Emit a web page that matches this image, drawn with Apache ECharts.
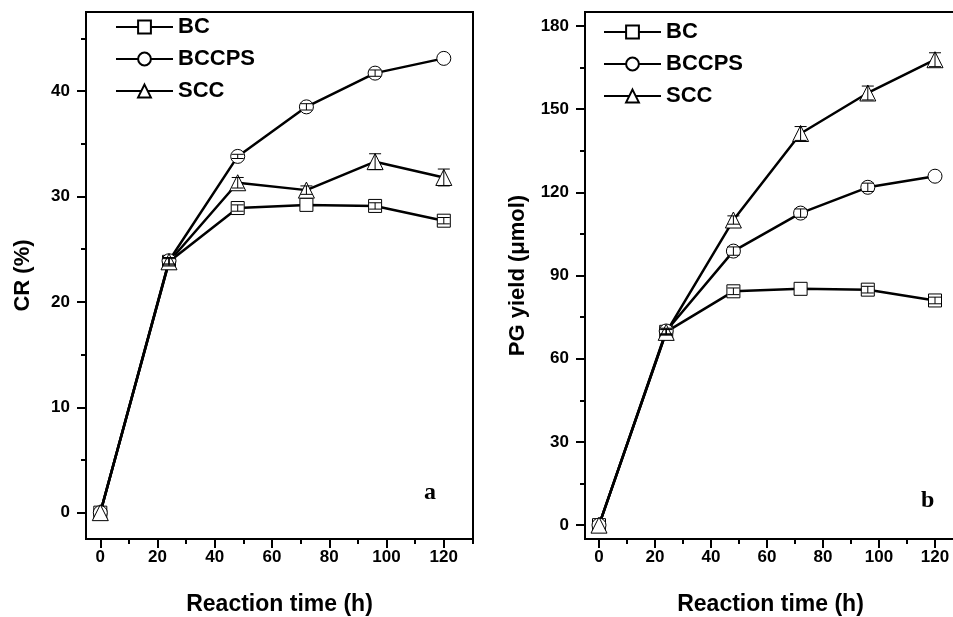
<!DOCTYPE html>
<html>
<head>
<meta charset="utf-8">
<script src="https://cdn.jsdelivr.net/npm/echarts@6/dist/echarts.min.js"></script>
<style>html,body{margin:0;padding:0;background:#fff;}#c{width:953px;height:617px;}</style>
</head>
<body>
<div id="c"></div>
<script>
// ---- data ----
const times = [0, 24, 48, 72, 96, 120];
const seriesNames = ['BC', 'BCCPS', 'SCC'];
// Panel a: CR (%)
const crBC    = [0, 23.8, 28.9, 29.2, 29.1, 27.7];
const crBCCPS = [0, 23.9, 33.8, 38.5, 41.7, 43.1];
const crSCC   = [0, 23.8, 31.3, 30.6, 33.3, 31.8];
const crErrBC    = [0, 0.3, 0.3, 0, 0.3, 0.3];
const crErrBCCPS = [0, 0.3, 0.2, 0.3, 0.3, 0];
const crErrSCC   = [0, 0.4, 0.5, 0.4, 0.75, 0.8];
// Panel b: PG yield (umol)
const pgBC    = [0, 69.7, 84.3, 85.2, 84.9, 81.0];
const pgBCCPS = [0, 70.0, 98.8, 112.5, 121.8, 125.8];
const pgSCC   = [0, 69.5, 110.0, 141.2, 155.8, 167.8];
const pgErrBC    = [0, 1, 1.2, 0, 1.2, 1.2];
const pgErrBCCPS = [0, 1, 1.5, 1.5, 1.5, 0];
const pgErrSCC   = [0, 1, 1.5, 2.5, 2.5, 2.5];
// ticks
const xMajor = [0, 20, 40, 60, 80, 100, 120];
const xMinorA = [10, 30, 50, 70, 90, 110, 130];
const xMinorB = [10, 30, 50, 70, 90, 110];
const yMajorA = [0, 10, 20, 30, 40];
const yMinorA = [5, 15, 25, 35, 45];
const yMajorB = [0, 30, 60, 90, 120, 150, 180];
const yMinorB = [15, 45, 75, 105, 135, 165];

const FONT = '"Liberation Sans", Arial, sans-serif';
const symbols = ['rect', 'circle', 'triangle'];
const symSizes = [13, 14, 16];

function xAxisPair(gi, min, max, minor, name) {
  return [
    { type: 'value', gridIndex: gi, min: min, max: max, position: 'bottom',
      name: name, nameLocation: 'middle', nameGap: 54,
      nameTextStyle: { fontFamily: FONT, fontWeight: 'bold', fontSize: 23, color: '#000' },
      axisLine: { show: true, onZero: false, lineStyle: { color: '#000', width: 2 } },
      axisTick: { show: true, inside: false, length: 9, lineStyle: { color: '#000', width: 2 }, customValues: xMajor },
      axisLabel: { show: true, margin: 10, fontFamily: FONT, fontWeight: 'bold', fontSize: 17, color: '#000', customValues: xMajor },
      splitLine: { show: false } },
    { type: 'value', gridIndex: gi, min: min, max: max, position: 'bottom',
      axisLine: { show: false, onZero: false },
      axisTick: { show: true, inside: false, length: 5, lineStyle: { color: '#000', width: 2 }, customValues: minor },
      axisLabel: { show: false },
      splitLine: { show: false } }
  ];
}
function yAxisPair(gi, min, max, major, minor, name, gap) {
  return [
    { type: 'value', gridIndex: gi, min: min, max: max, position: 'left',
      name: name, nameLocation: 'middle', nameGap: gap, nameRotate: 90,
      nameTextStyle: { fontFamily: FONT, fontWeight: 'bold', fontSize: 22, color: '#000' },
      axisLine: { show: true, onZero: false, lineStyle: { color: '#000', width: 2 } },
      axisTick: { show: true, inside: false, length: 9, lineStyle: { color: '#000', width: 2 }, customValues: major },
      axisLabel: { show: true, margin: 16, fontFamily: FONT, fontWeight: 'bold', fontSize: 17, color: '#000', customValues: major },
      splitLine: { show: false } },
    { type: 'value', gridIndex: gi, min: min, max: max, position: 'left',
      axisLine: { show: false, onZero: false },
      axisTick: { show: true, inside: false, length: 5, lineStyle: { color: '#000', width: 2 }, customValues: minor },
      axisLabel: { show: false },
      splitLine: { show: false } }
  ];
}

function lineSeries(name, vals, i, xi, yi) {
  return {
    type: 'line', name: name, xAxisIndex: xi, yAxisIndex: yi,
    data: times.map((t, k) => [t, vals[k]]),
    symbol: symbols[i], symbolSize: symSizes[i], showAllSymbol: true,
    lineStyle: { color: '#000', width: 2.5 },
    itemStyle: { color: '#fff', borderColor: '#000', borderWidth: 1 },
    emphasis: { disabled: true }, animation: false, z: 2
  };
}
function errSeries(vals, errs, xi, yi) {
  return {
    type: 'custom', xAxisIndex: xi, yAxisIndex: yi, z: 5, silent: true, animation: false,
    data: times.map((t, k) => [t, vals[k], errs[k]]),
    renderItem: function (params, api) {
      const x = api.value(0), y = api.value(1), e = api.value(2);
      if (!e) return;
      const top = api.coord([x, y + e]);
      const bot = api.coord([x, y - e]);
      const w = 6;
      const st = { stroke: '#000', lineWidth: 1 };
      return { type: 'group', children: [
        { type: 'line', shape: { x1: top[0], y1: top[1], x2: bot[0], y2: bot[1] }, style: st },
        { type: 'line', shape: { x1: top[0] - w, y1: top[1], x2: top[0] + w, y2: top[1] }, style: st },
        { type: 'line', shape: { x1: bot[0] - w, y1: bot[1], x2: bot[0] + w, y2: bot[1] }, style: st }
      ] };
    }
  };
}

const xA = xAxisPair(0, -5, 130.2, xMinorA, 'Reaction time (h)');
const xB = xAxisPair(1, -5, 127.5, xMinorB, 'Reaction time (h)');
const yA = yAxisPair(0, -2.5, 47.5, yMajorA, yMinorA, 'CR (%)', 52);
const yB = yAxisPair(1, -5, 185, yMajorB, yMinorB, 'PG yield (\u03bcmol)', 56);

const crSets = [crBC, crBCCPS, crSCC], crErrs = [crErrBC, crErrBCCPS, crErrSCC];
const pgSets = [pgBC, pgBCCPS, pgSCC], pgErrs = [pgErrBC, pgErrBCCPS, pgErrSCC];
const series = [];
seriesNames.forEach((n, i) => series.push(lineSeries(n, crSets[i], i, 0, 0)));
seriesNames.forEach((n, i) => series.push(lineSeries(n, pgSets[i], i, 2, 2)));
seriesNames.forEach((n, i) => series.push(errSeries(crSets[i], crErrs[i], 0, 0)));
seriesNames.forEach((n, i) => series.push(errSeries(pgSets[i], pgErrs[i], 2, 2)));

const legendCommon = {
  orient: 'vertical', itemWidth: 57, itemHeight: 16, itemGap: 10, selectedMode: false, padding: 0,
  textStyle: { fontFamily: FONT, fontWeight: 'bold', fontSize: 22, color: '#000', lineHeight: 22 },
  data: seriesNames
};

const option = {
  animation: false,
  backgroundColor: '#fff',
  grid: [
    { left: 86, top: 12, right: 480, bottom: 78, outerBoundsMode: 'none', containLabel: false, show: true, borderColor: '#000', borderWidth: 2, backgroundColor: 'transparent' },
    { left: 585, top: 12, right: -3, bottom: 78, outerBoundsMode: 'none', containLabel: false, show: true, borderColor: '#000', borderWidth: 2, backgroundColor: 'transparent' }
  ],
  xAxis: [xA[0], xA[1], xB[0], xB[1]],
  yAxis: [yA[0], yA[1], yB[0], yB[1]],
  legend: [
    Object.assign({ left: 115, top: 16 }, legendCommon),
    Object.assign({ left: 603, top: 21 }, legendCommon)
  ],
  graphic: [
    { type: 'text', left: 424, top: 481, style: { text: 'a', font: 'bold 24px "Liberation Serif", "DejaVu Serif", serif', fill: '#000' } },
    { type: 'text', left: 921, top: 489, style: { text: 'b', font: 'bold 24px "Liberation Serif", "DejaVu Serif", serif', fill: '#000' } }
  ],
  series: series
};
echarts.init(document.getElementById('c'), null, { renderer: 'canvas' }).setOption(option);
</script>
</body>
</html>
